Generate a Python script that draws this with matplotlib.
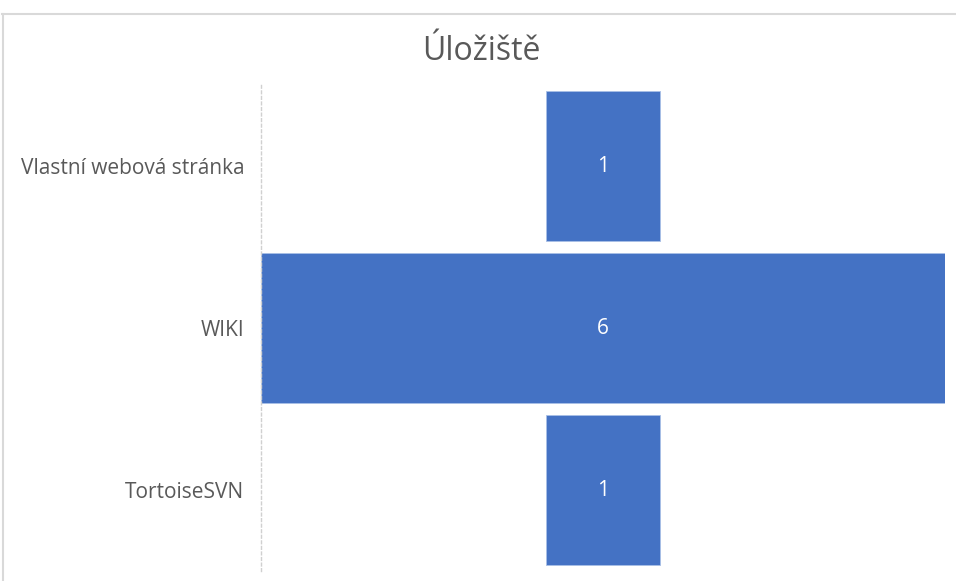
import matplotlib
matplotlib.use("Agg")
import matplotlib.pyplot as plt
from matplotlib.lines import Line2D

categories = ["Vlastní webová stránka", "WIKI", "TortoiseSVN"]
values = [1, 6, 1]
title = "Úložiště"

plt.rcParams['font.family'] = ['Open Sans', 'DejaVu Sans']

W, H = 956, 581
fig = plt.figure(figsize=(W / 100, H / 100), dpi=100)
fig.patch.set_facecolor("white")

# outer chart border (top and left visible in reference)
fig.add_artist(Line2D([2 / W, 1], [1 - 13.5 / H, 1 - 13.5 / H], transform=fig.transFigure,
                      color="#d9d9d9", lw=1.5))
fig.add_artist(Line2D([2.5 / W, 2.5 / W], [0, 1 - 13.5 / H], transform=fig.transFigure,
                      color="#d9d9d9", lw=1.5))

ax = fig.add_axes([261 / W, 10 / H, 684 / W, 486 / H])
vmax = max(values)
ys = list(range(len(categories)))
lefts = [(vmax - v) / 2 for v in values]
bars = ax.barh(ys, values, left=lefts, height=0.926, color="#4472c4",
               edgecolor="#a9c0e6", linewidth=0.6)
for y, v, l in zip(ys, values, lefts):
    ax.text(l + v / 2, y, str(v), ha="center", va="center", color="white", fontsize=15)

ax.set_xlim(0, vmax)
ax.set_ylim(len(categories) - 0.5, -0.5)
ax.set_yticks(ys)
ax.set_yticklabels(categories, fontsize=15, color="#595959")
ax.tick_params(axis="y", length=0, pad=12)
ax.set_xticks([])
for s in ["top", "right", "bottom"]:
    ax.spines[s].set_visible(False)
ax.spines["left"].set_color("#d0d0d0")
ax.spines["left"].set_linestyle((0, (2, 2)))
ax.spines["left"].set_linewidth(1)

fig.text(0.503, 1 - 52 / H, title, ha="center", va="center", fontsize=23, color="#595959")

fig.savefig("out.png", dpi=100)
